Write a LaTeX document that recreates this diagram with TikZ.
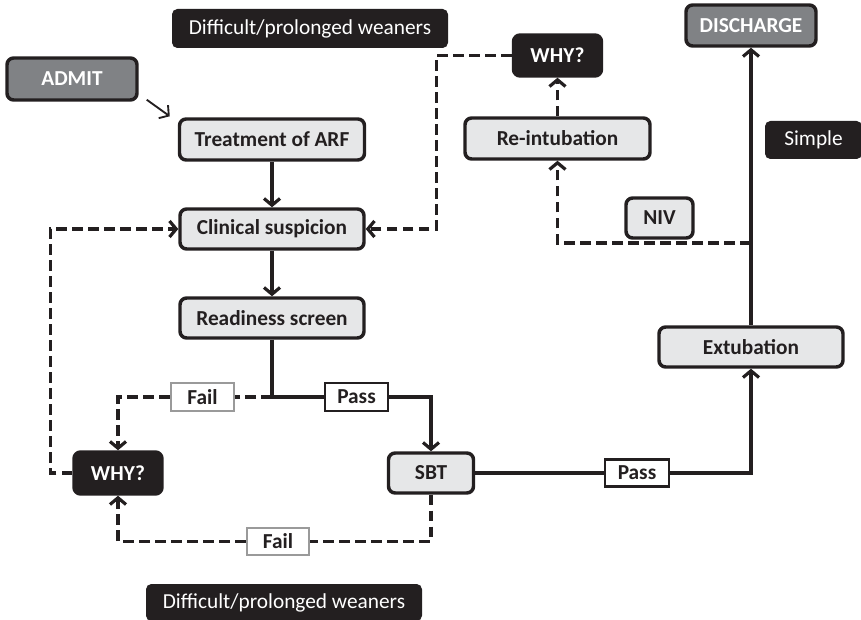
\documentclass[tikz,border=0pt]{standalone}
\usepackage{fontspec}
\setmainfont{Carlito}
\usetikzlibrary{arrows.meta}
\tikzset{>={Straight Barb[length=5pt,width=12pt]}}
\usepackage{xcolor}
\definecolor{boxfill}{HTML}{E6E7E8}
\definecolor{darkfill}{HTML}{231F20}
\definecolor{endfill}{HTML}{808285}
\definecolor{failline}{HTML}{9A9A9A}
\def\px{0.75pt}
\tikzstyle{stage}=[draw=darkfill,line width=2.6pt,rounded corners=5pt,fill=boxfill,text=darkfill,
                   font=\bfseries\fontsize{16}{19}\selectfont,inner sep=0pt]
\tikzstyle{endpt}=[stage,fill=endfill,text=white]
\tikzstyle{why}=[stage,fill=darkfill,text=white]
\tikzstyle{tag}=[fill=darkfill,text=white,rounded corners=4pt,font=\fontsize{16}{19}\selectfont,inner sep=0pt]
\tikzstyle{passbox}=[draw=darkfill,line width=2.2pt,fill=white,text=darkfill,
                     font=\bfseries\fontsize{16}{19}\selectfont,inner sep=0pt]
\tikzstyle{failbox}=[passbox,draw=failline]
\tikzstyle{flow}=[draw=darkfill,line width=2.4pt]
\tikzstyle{retry}=[flow,dash pattern=on 8pt off 4pt]

\begin{document}
\begin{tikzpicture}[x=0.75pt,y=-0.75pt]
  \useasboundingbox (0,0) rectangle (861,620);

  % MAIN COLUMN
  \node[endpt, minimum width=130*\px, minimum height=42*\px] (admit) at ( 72, 79  ) {ADMIT};
  \node[stage, minimum width=185*\px, minimum height=41*\px] (tarf)  at (272,139.5) {Treatment of ARF};
  \node[stage, minimum width=184*\px, minimum height=40*\px] (cs)    at (272,229  ) {Clinical suspicion};
  \node[stage, minimum width=184*\px, minimum height=40*\px] (rs)    at (272,318  ) {Readiness screen};
  \node[failbox, minimum width=63*\px, minimum height=28*\px] (fail1) at (202.5,397) {Fail};
  \node[passbox, minimum width=63*\px, minimum height=28*\px] (pass1) at (356.5,397) {Pass};
  \node[why,   minimum width=88*\px,  minimum height=42*\px] (why1)  at (118,473  ) {WHY?};
  \node[stage, minimum width=85*\px,  minimum height=40*\px] (sbt)   at (431,473  ) {SBT};
  \node[failbox, minimum width=62*\px, minimum height=27*\px] (fail2) at (278,541.5) {Fail};

  % RIGHT COLUMN
  \node[passbox, minimum width=64*\px, minimum height=27*\px] (pass2) at (637,473) {Pass};
  \node[stage, minimum width=184*\px, minimum height=40*\px] (ext)   at (751,347  ) {Extubation};
  \node[endpt, minimum width=130*\px, minimum height=41*\px] (dis)   at (751,25.5 ) {DISCHARGE};
  \node[stage, minimum width=185*\px, minimum height=41*\px] (ri)    at (557.5,138.5) {Re-intubation};
  \node[why,   minimum width=88*\px,  minimum height=41*\px] (why2)  at (557.5,55.5) {WHY?};
  \node[stage, minimum width=67*\px,  minimum height=40*\px] (niv)   at (659.5,218) {NIV};

  % TAGS
  \node[tag, minimum width=276*\px, minimum height=39*\px] (hardtop) at (310,28.5) {Difficult/prolonged weaners};
  \node[tag, minimum width=276*\px, minimum height=37*\px] (hardbot) at (284,602.5) {Difficult/prolonged weaners};
  \node[tag, minimum width=97*\px,  minimum height=38*\px] (simple)  at (813.5,140) {Simple};

  % SOLID PATH
  \draw[draw=darkfill,line width=1.4pt,->] ([shift={(8,-2)}]admit.south east) -- ([shift={(-8,-1)}]tarf.north west);
  \draw[flow,->] (tarf) -- (cs);
  \draw[flow,->] (cs) -- (rs);
  \coordinate (split) at (rs.south |- pass1);
  \draw[flow] (rs.south) -- (split) -- (pass1.west);
  \draw[flow,->] (pass1.east) -| (sbt.north);
  \draw[flow] (sbt.east) -- (pass2.west);
  \draw[flow,->] (pass2.east) -| (ext.south);
  \draw[flow,->] (ext.north) -- (dis.south);

  % DASHED PATH
  \draw[retry] (split) -- (fail1.east);
  \draw[retry,->] (fail1.west) -| (why1.north);
  \draw[retry] (sbt.south) |- (fail2.east);
  \draw[retry,->] (fail2.west) -| (why1.south);
  \draw[retry,->] (why1.west) -- ++(-22,0) |- (cs.west);
  \coordinate (nivsplit) at (ext.north |- 0,243);
  \draw[retry,->] (nivsplit) -| (ri.south);
  \draw[retry,->] (ri.north) -- (why2.south);
  \draw[retry,->] (why2.west) -- ++(-75,0) |- (cs.east);

\end{tikzpicture}
\end{document}
